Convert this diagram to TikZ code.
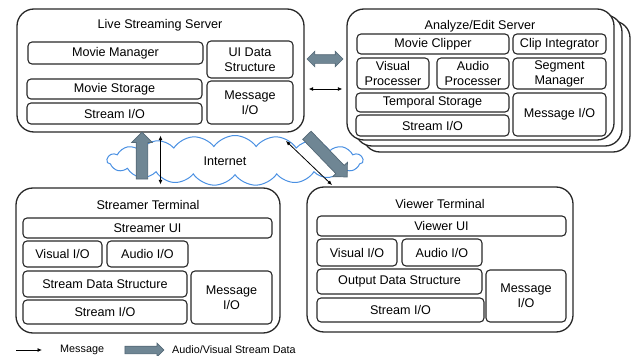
\documentclass[tikz,border=0pt]{standalone}
\usepackage{fontspec}
\setmainfont{Liberation Sans}
\usetikzlibrary{arrows.meta,positioning,shapes,calc}
\definecolor{boxline}{RGB}{40,40,40}
\definecolor{fatgray}{RGB}{111,134,148}
\definecolor{fatedge}{RGB}{84,104,118}
\definecolor{netblue}{RGB}{74,144,226}

\tikzset{
  unit/.style={draw=boxline, line width=1.1pt, rounded corners=4pt, fill=white,
    align=center, inner sep=0pt, font=\fontsize{12.6}{15}\selectfont},
  host/.style={draw=boxline, line width=1.3pt, rounded corners=17pt, fill=white, inner sep=0pt},
  title/.style={font=\fontsize{12.6}{15}\selectfont, inner sep=0pt},
  msg/.style={{Latex[length=4.5pt,width=4pt]}-{Latex[length=4.5pt,width=4pt]}, line width=0.8pt},
  fat/.style={single arrow, draw=fatedge, fill=fatgray, line width=0.7pt, inner xsep=0pt},
}

\begin{document}
\begin{tikzpicture}[x=1pt,y=-1pt]
    \useasboundingbox (0,0) rectangle (635,356);
    % Internet
    \node[cloud, cloud puffs=19, cloud puff arc=110, aspect=5, draw=netblue, line width=1pt,
          minimum width=256pt, minimum height=50pt, inner sep=0pt] (net) at (235,160.5) {};
    \node[title] (netlabel) at (225,161) {Internet};

    % Live streaming server
    \node[host, minimum width=287pt, minimum height=123pt] (lss) at (160.5,70.5) {};
    \node[title] (lsstitle) at (160,25) {Live Streaming Server};
    \node[unit, minimum width=175pt, minimum height=22pt] (lssmm) at (115.5,53) {Movie Manager};
    \node[unit, minimum width=86pt, minimum height=37pt] (lssui) at (250,59.5) {UI Data\\Structure};
    \node[unit, minimum width=175pt, minimum height=20pt] (lssms) at (114.5,89) {Movie Storage};
    \node[unit, minimum width=175pt, minimum height=21pt] (lsssio) at (114.5,113.5) {Stream I/O};
    \node[unit, minimum width=86pt, minimum height=43pt] (lssmio) at (250,102.5) {Message\\I/O};

    % Analyze/edit server (stacked)
    \foreach \k in {2,1} {
        \node[host, minimum width=267pt, minimum height=131pt] (aes\k) at (480.5+8*\k,74.5+6*\k) {};
    }
    \node[host, minimum width=267pt, minimum height=131pt] (aes) at (480.5,74.5) {};
    \node[title] (aestitle) at (480,26) {Analyze/Edit Server};
    \node[unit, minimum width=152pt, minimum height=20pt] (aesmc) at (433,44) {Movie Clipper};
    \node[unit, minimum width=93pt, minimum height=20pt] (aesci) at (559.5,44) {Clip Integrator};
    \node[unit, minimum width=72pt, minimum height=31pt] (aesvp) at (393,73.5) {Visual\\Processer};
    \node[unit, minimum width=72pt, minimum height=31pt] (aesap) at (473,73.5) {Audio\\Processer};
    \node[unit, minimum width=93pt, minimum height=31pt] (aessm) at (559.5,73.5) {Segment\\Manager};
    \node[unit, minimum width=153pt, minimum height=19pt] (aests) at (432.5,102.5) {Temporal Storage};
    \node[unit, minimum width=153pt, minimum height=21pt] (aessio) at (432.5,125.5) {Stream I/O};
    \node[unit, minimum width=93pt, minimum height=43pt] (aesmio) at (559.5,114.5) {Message I/O};

    % Streamer terminal
    \node[host, minimum width=264pt, minimum height=145pt] (st) at (148,260.5) {};
    \node[title] (sttitle) at (148,205) {Streamer Terminal};
    \node[unit, minimum width=249pt, minimum height=20pt] (stui) at (147.5,228) {Streamer UI};
    \node[unit, minimum width=79pt, minimum height=26pt] (stvio) at (62.5,254) {Visual I/O};
    \node[unit, minimum width=81pt, minimum height=26pt] (staio) at (147.5,254) {Audio I/O};
    \node[unit, minimum width=164pt, minimum height=26pt] (stsds) at (105,284) {Stream Data Structure};
    \node[unit, minimum width=164pt, minimum height=24pt] (stsio) at (105,312) {Stream I/O};
    \node[unit, minimum width=81pt, minimum height=53pt] (stmio) at (231.5,297.5) {Message\\I/O};

    % Viewer terminal
    \node[host, minimum width=266pt, minimum height=145pt] (vt) at (440,259.5) {};
    \node[title] (vttitle) at (440,204) {Viewer Terminal};
    \node[unit, minimum width=249pt, minimum height=20pt] (vtui) at (441.5,226) {Viewer UI};
    \node[unit, minimum width=80pt, minimum height=27pt] (vtvio) at (357,252.5) {Visual I/O};
    \node[unit, minimum width=80pt, minimum height=27pt] (vtaio) at (442,252.5) {Audio I/O};
    \node[unit, minimum width=165pt, minimum height=25pt] (vtods) at (399.5,281.5) {Output Data Structure};
    \node[unit, minimum width=167pt, minimum height=24pt] (vtsio) at (400.5,310) {Stream I/O};
    \node[unit, minimum width=80pt, minimum height=52pt] (vtmio) at (526,296) {Message\\I/O};

    % Stream data
    \node[fat, minimum height=47pt, inner ysep=5.5pt, single arrow head extend=4.5pt,
          rotate=90] (upfat) at (142,158.5) {};
    \node[fat, minimum height=58pt, inner ysep=5.5pt, single arrow head extend=4.5pt,
          rotate=-46] (downfat) at (325,154) {};
    \node[double arrow, draw=fatedge, fill=fatgray, line width=0.7pt, inner xsep=0pt, inner ysep=4pt,
          minimum height=36pt, double arrow head extend=3.5pt] (sidefat) at (325,59) {};

    % Messages
    \draw[msg, shorten <=3pt, shorten >=3pt] (lss.south) -- (lss.south |- st.north);
    \coordinate (hm) at ([yshift=-18.5pt]lss.east);
    \draw[msg, shorten <=4pt, shorten >=4pt] (hm) -- (hm -| aes.west);
    \coordinate (dm1) at (286,141);
    \coordinate (dm2) at (332,185);
    \draw[msg] (dm1) -- (dm2);

    % Legend
    \coordinate (lg1) at (16,350);
    \coordinate (lg2) at (42,350);
    \draw[-{Latex[length=4.5pt,width=4pt]}, line width=0.8pt] (lg1) -- (lg2);
    \node[anchor=west, inner sep=0pt, font=\fontsize{10.8}{13}\selectfont] (lgmsg) at (60,350) {Message};
    \node[fat, minimum height=39pt, inner ysep=3.5pt, single arrow head extend=3pt] (lgfat) at (142.5,350) {};
    \node[anchor=west, inner sep=0pt, font=\fontsize{10.8}{13}\selectfont] (lgdata) at (172,350) {Audio/Visual Stream Data};
\end{tikzpicture}
\end{document}
